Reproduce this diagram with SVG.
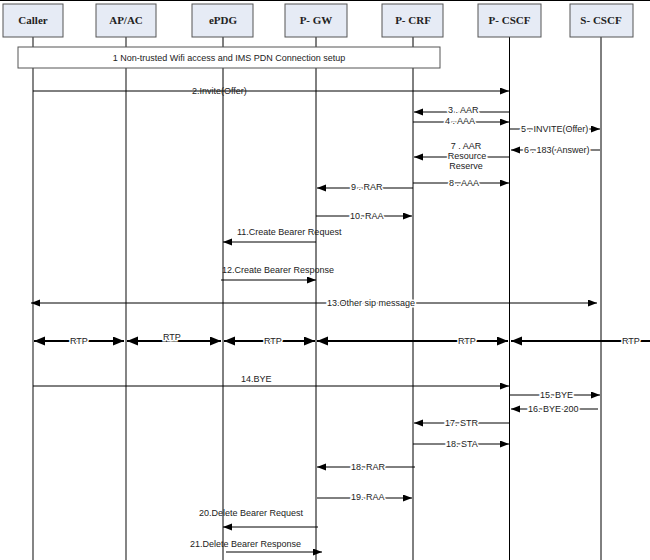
<svg xmlns="http://www.w3.org/2000/svg" width="650" height="560" viewBox="0 0 650 560">
<style>
.box{fill:#e6ebf5;stroke:#555;stroke-width:1}
.hd{font-family:"Liberation Serif",serif;font-weight:bold;font-size:11px;fill:#222;text-anchor:middle}
.ll{stroke:#000;stroke-width:1}
.llg{stroke:#666;stroke-width:1.6}
.m{stroke:#000;stroke-width:1;fill:none;marker-end:url(#ah)}
.mb{stroke:#000;stroke-width:1;fill:none;marker-end:url(#ah);marker-start:url(#ah)}
.rtp{stroke:#000;stroke-width:2;fill:none;marker-end:url(#ah2);marker-start:url(#ah2)}
.t{font-family:"Liberation Sans",Arial,sans-serif;font-size:9px;fill:#222}
.h{stroke:#fff;stroke-width:3;paint-order:stroke}
</style>
<defs>
<marker id="ah" markerUnits="userSpaceOnUse" markerWidth="10" markerHeight="8" refX="9" refY="3.5" orient="auto-start-reverse"><path d="M0,0 L9,3.5 L0,7 z" fill="#000"/></marker>
<marker id="ah2" markerUnits="userSpaceOnUse" markerWidth="12" markerHeight="10" refX="11" refY="4.5" orient="auto-start-reverse"><path d="M0,0 L11,4.5 L0,9 z" fill="#000"/></marker>
</defs>
<rect width="650" height="560" fill="#fff"/>
<line x1="0" y1="0.5" x2="650" y2="0.5" stroke="#000" stroke-width="1"/>

<g id="lifelines">
<line class="llg" x1="33" y1="37" x2="33" y2="560"/>
<line class="llg" x1="126" y1="37" x2="126" y2="560"/>
<line class="ll" x1="223" y1="37" x2="223" y2="560"/>
<line class="ll" x1="316" y1="37" x2="316" y2="560"/>
<line class="ll" x1="413" y1="37" x2="413" y2="560"/>
<line class="ll" x1="509.5" y1="37" x2="509.5" y2="560"/>
<line class="ll" x1="601" y1="37" x2="601" y2="560"/>
</g>

<g id="caller"><rect class="box" x="3" y="4" width="60" height="33"/><text class="hd" x="33" y="24">Caller</text></g>
<g id="apac"><rect class="box" x="96" y="4" width="60" height="33"/><text class="hd" x="126" y="24">AP/AC</text></g>
<g id="epdg"><rect class="box" x="192" y="4" width="61" height="33"/><text class="hd" x="223" y="24">ePDG</text></g>
<g id="pgw"><rect class="box" x="285" y="4" width="62" height="33"/><text class="hd" x="316" y="24">P- GW</text></g>
<g id="pcrf"><rect class="box" x="382" y="4" width="61" height="33"/><text class="hd" x="413" y="24">P- CRF</text></g>
<g id="pcscf"><rect class="box" x="478" y="4" width="63" height="33"/><text class="hd" x="509.5" y="24">P- CSCF</text></g>
<g id="scscf"><rect class="box" x="570" y="4" width="63" height="33"/><text class="hd" x="601" y="24">S- CSCF</text></g>

<g id="setup"><rect x="18" y="47" width="422" height="21" fill="#fff" stroke="#555" stroke-width="1"/><text class="t" x="229" y="61" text-anchor="middle">1 Non-trusted Wifi access and IMS PDN Connection setup</text></g>

<g id="connectors">
<line class="m" x1="33" y1="91" x2="509" y2="91"/>
<line class="m" x1="509" y1="112" x2="414" y2="112"/>
<line class="m" x1="413" y1="122" x2="509" y2="122"/>
<line class="m" x1="510" y1="129" x2="600" y2="129"/>
<line class="m" x1="600" y1="150" x2="511" y2="150"/>
<line class="m" x1="509" y1="157" x2="414" y2="157"/>
<line class="m" x1="413" y1="183" x2="509" y2="183"/>
<line class="m" x1="413" y1="188" x2="317" y2="188"/>
<line class="m" x1="316" y1="216" x2="412" y2="216"/>
<line class="m" x1="316" y1="242" x2="223" y2="242"/>
<line class="m" x1="221" y1="280" x2="316" y2="280"/>
<line class="mb" x1="31" y1="303" x2="597" y2="303"/>
<line class="rtp" x1="34" y1="341" x2="124" y2="341"/>
<line class="rtp" x1="127" y1="341" x2="221" y2="341"/>
<line class="rtp" x1="224" y1="341" x2="315" y2="341"/>
<line class="rtp" x1="317" y1="341" x2="508" y2="341"/>
<line class="rtp" x1="511" y1="341" x2="675" y2="341"/>
<line class="m" x1="33" y1="386" x2="509" y2="386"/>
<line class="m" x1="510" y1="395" x2="600" y2="395"/>
<line class="m" x1="598" y1="409" x2="511" y2="409"/>
<line class="m" x1="509" y1="423" x2="414" y2="423"/>
<line class="m" x1="413" y1="444" x2="509" y2="444"/>
<line class="m" x1="415" y1="467" x2="317" y2="467"/>
<line class="m" x1="317" y1="498" x2="412" y2="498"/>
<line class="m" x1="318" y1="527" x2="223" y2="527"/>
<line class="m" x1="226" y1="552" x2="322" y2="552"/>
</g>

<g id="labels">
<text class="t" x="192" y="94">2.Invite(Offer)</text>
<text class="t h" x="448" y="113">3 . AAR</text>
<text class="t h" x="445" y="124">4 . AAA</text>
<text class="t h" x="521" y="132">5 . INVITE(Offer)</text>
<text class="t h" x="524" y="153">6 . 183( Answer)</text>
<text class="t h" x="466" y="149" text-anchor="middle">7 . AAR</text>
<text class="t h" x="467" y="159" text-anchor="middle">Resource</text>
<text class="t h" x="466" y="169" text-anchor="middle">Reserve</text>
<text class="t h" x="449" y="186">8 . AAA</text>
<text class="t h" x="351" y="190">9 . RAR</text>
<text class="t h" x="350" y="219">10. RAA</text>
<text class="t" x="237" y="235">11.Create Bearer Request</text>
<text class="t" x="222" y="273">12.Create Bearer Response</text>
<text class="t h" x="327" y="306">13.Other sip message</text>
<text class="t h" x="70" y="344">RTP</text>
<text class="t h" x="163" y="340">RTP</text>
<text class="t h" x="264" y="344">RTP</text>
<text class="t h" x="458" y="344">RTP</text>
<text class="t h" x="622" y="344">RTP</text>
<text class="t" x="241" y="382">14.BYE</text>
<text class="t h" x="540" y="398">15. BYE</text>
<text class="t h" x="528" y="412">16. BYE 200</text>
<text class="t h" x="445" y="426">17. STR</text>
<text class="t h" x="446" y="447">18. STA</text>
<text class="t h" x="351" y="470">18. RAR</text>
<text class="t h" x="351" y="500">19. RAA</text>
<text class="t" x="199" y="516">20.Delete Bearer Request</text>
<text class="t" x="190" y="547">21.Delete Bearer Response</text>
</g>
</svg>
